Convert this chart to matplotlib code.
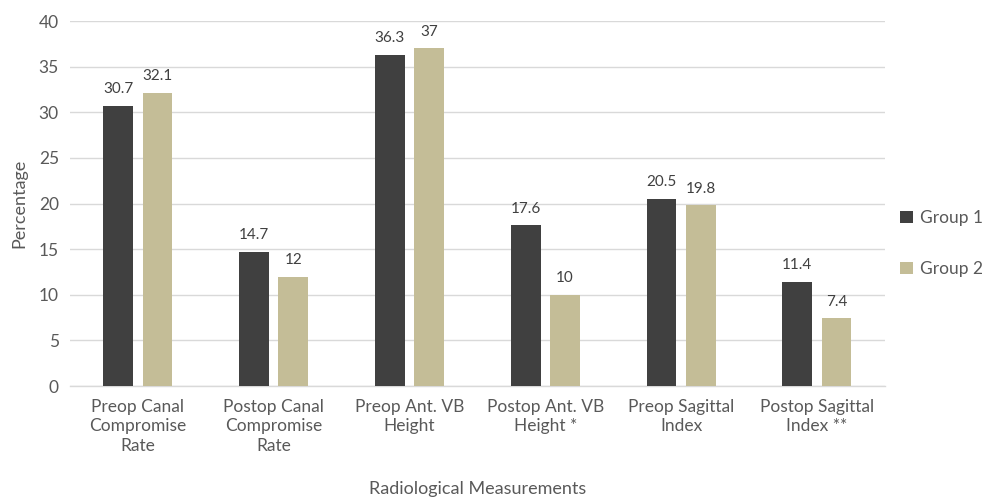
import matplotlib.pyplot as plt
import numpy as np

categories = ["Preop Canal\nCompromise\nRate", "Postop Canal\nCompromise\nRate",
              "Preop Ant. VB\nHeight", "Postop Ant. VB\nHeight *",
              "Preop Sagittal\nIndex", "Postop Sagittal\nIndex **"]
group1 = [30.7, 14.7, 36.3, 17.6, 20.5, 11.4]
group2 = [32.1, 12, 37, 10, 19.8, 7.4]
yticks = [0, 5, 10, 15, 20, 25, 30, 35, 40]

plt.rcParams['font.family'] = ['Lato', 'DejaVu Sans']
txt = '#595959'

fig = plt.figure(figsize=(9.82, 4.97), dpi=100)
ax = fig.add_axes([0.0713, 0.2233, 0.8297, 0.7344])

x = np.arange(len(categories))
w = 0.22
b1 = ax.bar(x - 0.144, group1, w, color='#404040', label='Group 1', zorder=3)
b2 = ax.bar(x + 0.144, group2, w, color='#C4BD97', label='Group 2', zorder=3)

# value labels above bars
for bars, vals in ((b1, group1), (b2, group2)):
    for r, v in zip(bars, vals):
        ax.annotate(f"{v:g}", (r.get_x() + r.get_width() / 2, v),
                    xytext=(0, 7), textcoords='offset points',
                    ha='center', va='bottom', fontsize=11, color='#404040')

ax.set_xlim(-0.5, 5.5)
ax.set_ylim(0, 40)
ax.set_yticks(yticks)
ax.set_xticks(x)
ax.set_xticklabels(categories, fontsize=12.5, color=txt, linespacing=1.3)
ax.tick_params(axis='y', labelsize=12.5, labelcolor=txt, length=0, pad=8)
ax.tick_params(axis='x', length=0, pad=9)
ax.grid(axis='y', color='#D9D9D9', linewidth=1, zorder=0)
for s in ['top', 'right', 'left']:
    ax.spines[s].set_visible(False)
ax.spines['bottom'].set_color('#D9D9D9')
ax.spines['bottom'].set_linewidth(1)

ax.set_ylabel("Percentage", fontsize=13, color=txt, labelpad=8)
ax.set_xlabel("Radiological Measurements", fontsize=13, color=txt, labelpad=19)

leg = ax.legend(loc='center left', bbox_to_anchor=(1.0, 0.39), frameon=False,
                fontsize=12.5, labelspacing=2.0, handlelength=0.7, handleheight=0.7,
                handletextpad=0.4)
for t in leg.get_texts():
    t.set_color(txt)

fig.savefig("out.png", dpi=100)
